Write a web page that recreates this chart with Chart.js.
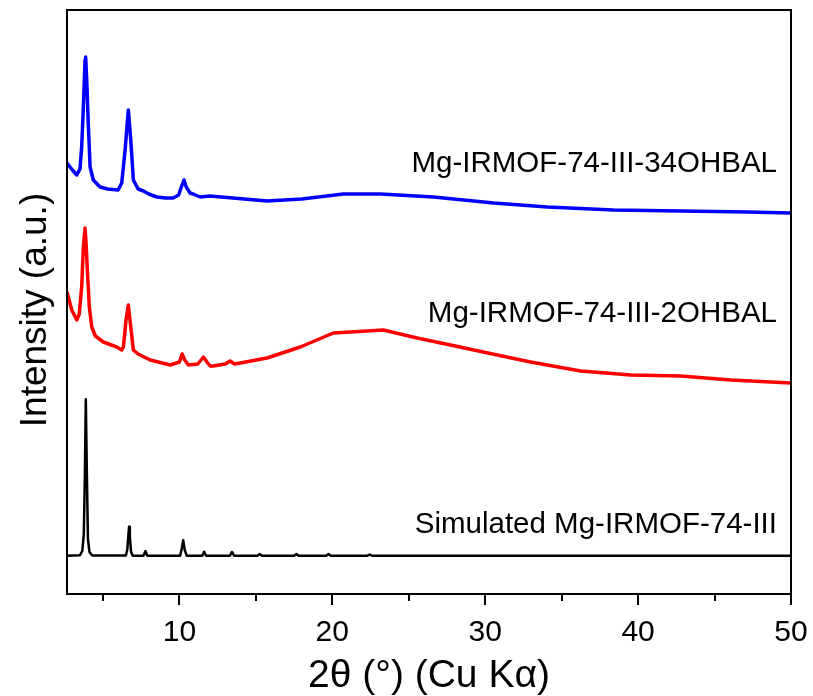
<!DOCTYPE html>
<html>
<head>
<meta charset="utf-8">
<script src="https://cdn.jsdelivr.net/npm/chart.js@4.4.1/dist/chart.umd.min.js"></script>
<style>
  html, body { margin: 0; padding: 0; background: #fff; }
  canvas { display: block; }
</style>
</head>
<body>
<canvas id="xrd" width="813" height="696"></canvas>
<script>
// 2-theta positions and intensities (a.u.)
const blueX = [2.65, 3.0, 3.29, 3.5, 3.61, 3.72, 3.83, 3.87, 3.95, 4.04, 4.16, 4.37, 4.81, 5.3, 5.99, 6.23, 6.45, 6.66, 6.82, 6.99, 7.3, 7.65, 8.0, 8.52, 9.1, 9.59, 9.95, 10.15, 10.3, 10.45, 10.7, 10.9, 11.36, 12.0, 13.5, 15.73, 18.0, 20.72, 23.15, 26.62, 30.55, 34.06, 38.41, 42.79, 47.16, 50.0];
const blueY = [431, 424, 419, 425, 447, 487, 534, 537, 510, 471, 427, 414, 407, 405, 404, 411, 444, 484, 454, 414, 405, 403, 400, 397, 396, 396, 399, 408, 414, 407, 401, 400, 397, 398, 396, 393, 395, 400, 400, 397, 391, 387, 384, 383, 382, 381];

const redX = [2.65, 2.96, 3.29, 3.45, 3.61, 3.72, 3.83, 3.9, 3.98, 4.11, 4.27, 4.5, 5.03, 5.9, 6.23, 6.34, 6.51, 6.66, 6.82, 6.99, 7.3, 8.09, 9.4, 10.0, 10.18, 10.35, 10.59, 11.2, 11.58, 11.8, 12.01, 12.21, 13.0, 13.32, 13.6, 13.98, 15.73, 17.91, 20.07, 21.18, 23.34, 25.55, 27.73, 30.79, 32.97, 36.24, 39.52, 42.8, 46.07, 50.0];
const redY = [302, 284, 274, 280, 307, 347, 366, 350, 324, 287, 267, 258, 252, 247, 244, 247, 274, 289, 267, 244, 240, 234, 229, 232, 240, 234, 229, 230, 237, 232, 228, 228, 230, 233, 230, 231, 236, 247, 261, 262, 264, 256, 249, 239, 232, 223, 219, 218, 214, 211];

const simX = [2.65, 3.5, 3.65, 3.75, 3.82, 3.88, 3.95, 4.02, 4.12, 4.3, 6.5, 6.6, 6.67, 6.71, 6.76, 6.84, 6.95, 7.65, 7.78, 7.9, 10.05, 10.15, 10.25, 10.35, 10.48, 11.5, 11.62, 11.75, 13.3, 13.44, 13.58, 15.1, 15.25, 15.4, 17.5, 17.65, 17.8, 19.6, 19.75, 19.9, 22.3, 22.45, 22.6, 50.0];
const simY = [38.3, 38.8, 43, 60, 120, 194.7, 120, 55, 42, 38.5, 38.5, 45, 60, 67.3, 58, 42, 38.3, 38.3, 43, 38.3, 38.3, 45, 53.7, 44, 38.3, 38.3, 42.3, 38.3, 38.3, 42, 38.3, 38.3, 40, 38.3, 38.3, 40, 38.3, 38.3, 40, 38.3, 38.3, 39.5, 38.3, 38.3];

const seriesNames = ['Mg-IRMOF-74-III-34OHBAL', 'Mg-IRMOF-74-III-2OHBAL', 'Simulated Mg-IRMOF-74-III'];
const majorTicks = [10, 20, 30, 40, 50];
const minorTicks = [5, 15, 25, 35, 45];

const toPoints = (xs, ys) => xs.map((x, i) => ({ x: x, y: ys[i] }));

const FONT = "'Liberation Sans', Arial, sans-serif";

// frame, tick marks, titles and curve labels
const decorations = {
    id: 'decorations',
    afterDatasetsDraw(chart) {
        const ctx = chart.ctx;
        const area = chart.chartArea;
        const xs = chart.scales.x;
        const ys = chart.scales.y;

        ctx.save();
        ctx.strokeStyle = '#000';
        ctx.lineWidth = 2;
        ctx.strokeRect(area.left, area.top, area.right - area.left, area.bottom - area.top);

        ctx.beginPath();
        majorTicks.forEach(v => {
            const px = Math.round(xs.getPixelForValue(v));
            ctx.moveTo(px, area.bottom);
            ctx.lineTo(px, area.bottom + 11);
        });
        minorTicks.forEach(v => {
            const px = Math.round(xs.getPixelForValue(v));
            ctx.moveTo(px, area.bottom);
            ctx.lineTo(px, area.bottom + 7);
        });
        ctx.stroke();

        ctx.fillStyle = '#000';
        // x title
        ctx.font = '39px ' + FONT;
        ctx.textAlign = 'center';
        ctx.textBaseline = 'alphabetic';
        ctx.fillText('2\u03B8 (\u00B0) (Cu K\u03B1)', (area.left + area.right) / 2, 687);

        // y title
        ctx.font = '37px ' + FONT;
        ctx.save();
        ctx.translate(46, 310);
        ctx.rotate(-Math.PI / 2);
        ctx.fillText('Intensity (a.u.)', 0, 0);
        ctx.restore();

        // curve labels, anchored above each curve's tail
        ctx.font = '29.5px ' + FONT;
        ctx.textAlign = 'right';
        const labelY = [ys.getPixelForValue(422), ys.getPixelForValue(272), ys.getPixelForValue(61)];
        seriesNames.forEach((name, i) => {
            ctx.fillText(name, 777, labelY[i]);
        });
        ctx.restore();
    }
};

new Chart(document.getElementById('xrd'), {
    type: 'line',
    data: {
        datasets: [
            { label: seriesNames[0], data: toPoints(blueX, blueY), borderColor: '#0000ff', borderWidth: 3.5 },
            { label: seriesNames[1], data: toPoints(redX, redY), borderColor: '#ff0000', borderWidth: 3.5 },
            { label: seriesNames[2], data: toPoints(simX, simY), borderColor: '#000000', borderWidth: 2.5 }
        ]
    },
    options: {
        responsive: false,
        animation: false,
        events: [],
        elements: {
            point: { radius: 0 },
            line: { tension: 0, borderJoinStyle: 'round' }
        },
        layout: {
            padding: { left: 67, top: 10, right: 22, bottom: 0 }
        },
        plugins: {
            legend: { display: false },
            tooltip: { enabled: false }
        },
        scales: {
            x: {
                type: 'linear',
                min: 2.65,
                max: 50,
                grid: { display: false },
                border: { display: false },
                afterBuildTicks: scale => {
                    scale.ticks = majorTicks.map(v => ({ value: v }));
                },
                afterFit: scale => {
                    scale.height = 102;
                    scale.paddingLeft = 0;
                    scale.paddingRight = 0;
                },
                ticks: {
                    padding: 13,
                    maxRotation: 0,
                    color: '#000',
                    font: { family: FONT, size: 30 }
                }
            },
            y: {
                display: false,
                min: 0,
                max: 584
            }
        }
    },
    plugins: [decorations]
});
</script>
</body>
</html>
